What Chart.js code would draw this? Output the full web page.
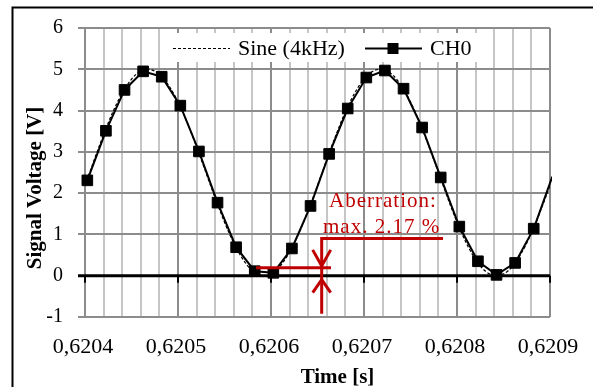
<!DOCTYPE html>
<html>
<head>
<meta charset="utf-8">
<script src="https://cdn.jsdelivr.net/npm/chart.js@4.4.1/dist/chart.umd.min.js"></script>
<style>
html, body { margin: 0; padding: 0; background: #fff; }
#caixa { width: 593px; height: 387px; position: relative; }
</style>
</head>
<body>
<div id="caixa"><canvas id="grafico"></canvas></div>
<script>
// amostras do CH0 (tempo em s, tensao em V)
var ch0Tempo = [0.6204025, 0.6204225, 0.6204425, 0.6204625, 0.6204825, 0.6205025, 0.6205225,
    0.6205425, 0.6205625, 0.6205825, 0.6206025, 0.6206225, 0.6206425, 0.6206625, 0.6206825,
    0.6207025, 0.6207225, 0.6207425, 0.6207625, 0.6207825, 0.6208025, 0.6208225, 0.6208425,
    0.6208625, 0.6208825, 0.6209025];
var ch0Tensao = [2.31, 3.51, 4.50, 4.95, 4.82, 4.12, 3.01, 1.77, 0.69, 0.11, 0.07, 0.66, 1.69,
    2.95, 4.05, 4.80, 4.97, 4.53, 3.59, 2.38, 1.19, 0.35, 0.02, 0.31, 1.14, 2.40];

// curva de referencia (seno 4kHz)
var senoTempo = [0.6203925, 0.620405, 0.6204175, 0.62043, 0.6204425, 0.620455, 0.6204675, 0.62048,
    0.6204925, 0.620505, 0.6205175, 0.62053, 0.6205425, 0.620555, 0.6205675, 0.62058, 0.6205925,
    0.620605, 0.6206175, 0.62063, 0.6206425, 0.620655, 0.6206675, 0.62068, 0.6206925, 0.620705,
    0.6207175, 0.62073, 0.6207425, 0.620755, 0.6207675, 0.62078, 0.6207925, 0.620805, 0.6208175,
    0.62083, 0.6208425, 0.620855, 0.6208675, 0.62088, 0.6208925, 0.620905, 0.6209175];
var senoTensao = [1.73, 2.50, 3.27, 3.97, 4.52, 4.88, 5.00, 4.88, 4.52, 3.97, 3.27, 2.50, 1.73,
    1.03, 0.48, 0.12, 0.00, 0.12, 0.48, 1.03, 1.73, 2.50, 3.27, 3.97, 4.52, 4.88, 5.00, 4.88,
    4.52, 3.97, 3.27, 2.50, 1.73, 1.03, 0.48, 0.12, 0.00, 0.12, 0.48, 1.03, 1.73, 2.50, 3.27];

var xMarcas = [0.6204, 0.6205, 0.6206, 0.6207, 0.6208, 0.6209];
var xRotulos = ['0,6204', '0,6205', '0,6206', '0,6207', '0,6208', '0,6209'];
var xPasso = 0.00002;
var yMin = -1, yMax = 6;

var fonte = '"Liberation Serif", "Times New Roman", serif';
var vermelho = '#c00000';

function ehPrincipal(v){
    for (var i = 0; i < xMarcas.length; i++) {
        if (Math.abs(v - xMarcas[i]) < 1e-9) return true;
    }
    return false;
}

function pontos(xs, ys){
    return xs.map(function(x, i){ return {x: x, y: ys[i]}; });
}

function linha(ctx, x0, y0, x1, y1){
    ctx.beginPath();
    ctx.moveTo(x0, y0);
    ctx.lineTo(x1, y1);
    ctx.stroke();
}

var extras = {
    id: 'extras',
    beforeDraw: function(chart){
        var ctx = chart.ctx, sx = chart.scales.x, area = chart.chartArea;
        ctx.save();
        ctx.fillStyle = '#fff';
        ctx.fillRect(0, 0, chart.width, chart.height);
        // grade vertical (antes da horizontal)
        ctx.lineWidth = 2;
        sx.ticks.forEach(function(t){
            var px = Math.round(sx.getPixelForValue(t.value));
            ctx.strokeStyle = ehPrincipal(t.value) ? '#8c8c8c' : '#c6c6c6';
            linha(ctx, px, area.top, px, area.bottom);
        });
        ctx.restore();
    },
    beforeDatasetsDraw: function(chart){
        var ctx = chart.ctx, sx = chart.scales.x, sy = chart.scales.y;
        var y0 = sy.getPixelForValue(0);
        ctx.save();
        ctx.strokeStyle = '#000';
        ctx.lineWidth = 3;
        linha(ctx, sx.left - 7, y0, sx.right, y0);
        ctx.lineWidth = 2;
        xMarcas.forEach(function(v){
            var px = Math.round(sx.getPixelForValue(v));
            linha(ctx, px, y0, px, y0 + 7);
        });
        ctx.restore();
    },
    afterDatasetsDraw: function(chart){
        var ctx = chart.ctx, sx = chart.scales.x, sy = chart.scales.y;
        ctx.save();
        // legenda
        ctx.fillStyle = '#fff';
        ctx.fillRect(166, 33, 312, 29);
        ctx.strokeStyle = '#000';
        ctx.setLineDash([3, 2]);
        ctx.lineWidth = 1.2;
        linha(ctx, 173, 48.5, 230, 48.5);
        ctx.setLineDash([]);
        ctx.lineWidth = 2;
        linha(ctx, 365, 48.5, 422, 48.5);
        ctx.fillStyle = '#000';
        ctx.fillRect(387.5, 43, 11, 11);
        ctx.font = '22px ' + fonte;
        ctx.textBaseline = 'alphabetic';
        ctx.fillText('Sine (4kHz)', 238, 55);
        ctx.fillText('CH0', 430, 55);

        // anotacao da aberracao
        var nivel = sy.getPixelForValue(0.19);
        var zero = sy.getPixelForValue(0);
        var setaX = sx.getPixelForValue(0.6206545);
        var topoY = sy.getPixelForValue(0.90);
        ctx.strokeStyle = vermelho;
        ctx.lineWidth = 3;
        linha(ctx, sx.getPixelForValue(0.620584), nivel, sx.getPixelForValue(0.6206645), nivel);
        ctx.beginPath();
        ctx.moveTo(sx.getPixelForValue(0.620785), topoY);
        ctx.lineTo(setaX, topoY);
        ctx.lineTo(setaX, sy.getPixelForValue(-0.92));
        ctx.stroke();
        ctx.beginPath();
        ctx.moveTo(setaX - 9, nivel - 18);
        ctx.lineTo(setaX, nivel - 2);
        ctx.lineTo(setaX + 9, nivel - 18);
        ctx.moveTo(setaX - 9, zero + 17);
        ctx.lineTo(setaX, zero + 4);
        ctx.lineTo(setaX + 9, zero + 17);
        ctx.stroke();
        ctx.fillStyle = vermelho;
        ctx.font = '21px ' + fonte;
        ctx.letterSpacing = '1px';
        ctx.fillText('Aberration:', sx.getPixelForValue(0.6206624), sy.getPixelForValue(1.67));
        ctx.fillText('max. 2.17 %', sx.getPixelForValue(0.6206559), sy.getPixelForValue(1.03));
        ctx.letterSpacing = '0px';
        ctx.restore();
    },
    afterDraw: function(chart){
        var ctx = chart.ctx, sx = chart.scales.x;
        ctx.save();
        // moldura
        ctx.strokeStyle = '#000';
        ctx.lineWidth = 2;
        ctx.beginPath();
        ctx.moveTo(chart.width, 7.5);
        ctx.lineTo(12.5, 7.5);
        ctx.lineTo(12.5, chart.height);
        ctx.stroke();
        // rotulos do eixo x
        ctx.fillStyle = '#000';
        ctx.font = '22px ' + fonte;
        ctx.textAlign = 'center';
        ctx.textBaseline = 'alphabetic';
        xMarcas.forEach(function(v, i){
            ctx.fillText(xRotulos[i], sx.getPixelForValue(v) - 2, 353);
        });
        // titulos dos eixos
        ctx.font = 'bold 21px ' + fonte;
        ctx.fillText('Time [s]', 337.5, 383);
        ctx.translate(40.5, 188);
        ctx.rotate(-Math.PI / 2);
        ctx.fillText('Signal Voltage [V]', 0, 0);
        ctx.restore();
    }
};

var grafico;
function exibirGrafico(canvas){
    grafico = new Chart(canvas, {
        type: 'line',
        data: {
            datasets: [
                {
                    label: 'CH0',
                    data: pontos(ch0Tempo, ch0Tensao),
                    borderColor: '#000',
                    borderWidth: 2,
                    pointStyle: 'rect',
                    pointRadius: function(c){ return c.raw && c.raw.x > xMarcas[xMarcas.length - 1] ? 0 : 7.5; },
                    pointBackgroundColor: '#000',
                    pointBorderColor: '#000',
                    pointBorderWidth: 1,
                    tension: 0,
                    clip: {left: 8, top: 8, right: 2, bottom: 8},
                    order: 0
                },
                {
                    label: 'Sine (4kHz)',
                    data: pontos(senoTempo, senoTensao),
                    borderColor: '#000',
                    borderWidth: 1.2,
                    borderDash: [3, 2],
                    pointRadius: 0,
                    cubicInterpolationMode: 'monotone',
                    clip: 0,
                    order: 1
                }
            ]
        },
        options: {
            responsive: true,
            maintainAspectRatio: false,
            animation: false,
            devicePixelRatio: 1,
            events: [],
            layout: { padding: { top: 28, right: 43, left: 0, bottom: 0 } },
            plugins: { legend: { display: false }, tooltip: { enabled: false } },
            scales: {
                x: {
                    type: 'linear',
                    min: xMarcas[0],
                    max: xMarcas[xMarcas.length - 1],
                    afterFit: function(scale){ scale.height = 70; },
                    border: { display: false },
                    grid: { display: false },
                    ticks: {
                        display: false,
                        stepSize: xPasso,
                        autoSkip: false,
                        maxRotation: 0
                    }
                },
                y: {
                    min: yMin,
                    max: yMax,
                    afterFit: function(scale){ scale.width = 85; },
                    border: { display: false },
                    grid: {
                        color: '#8c8c8c',
                        lineWidth: 2,
                        tickLength: 7,
                        tickColor: '#8c8c8c'
                    },
                    ticks: {
                        stepSize: 1,
                        padding: 15,
                        color: '#000',
                        font: { family: fonte, size: 20 },
                        callback: function(v){ return String(v); }
                    }
                }
            }
        },
        plugins: [extras]
    });
}

exibirGrafico(document.getElementById('grafico'));
</script>
</body>
</html>
